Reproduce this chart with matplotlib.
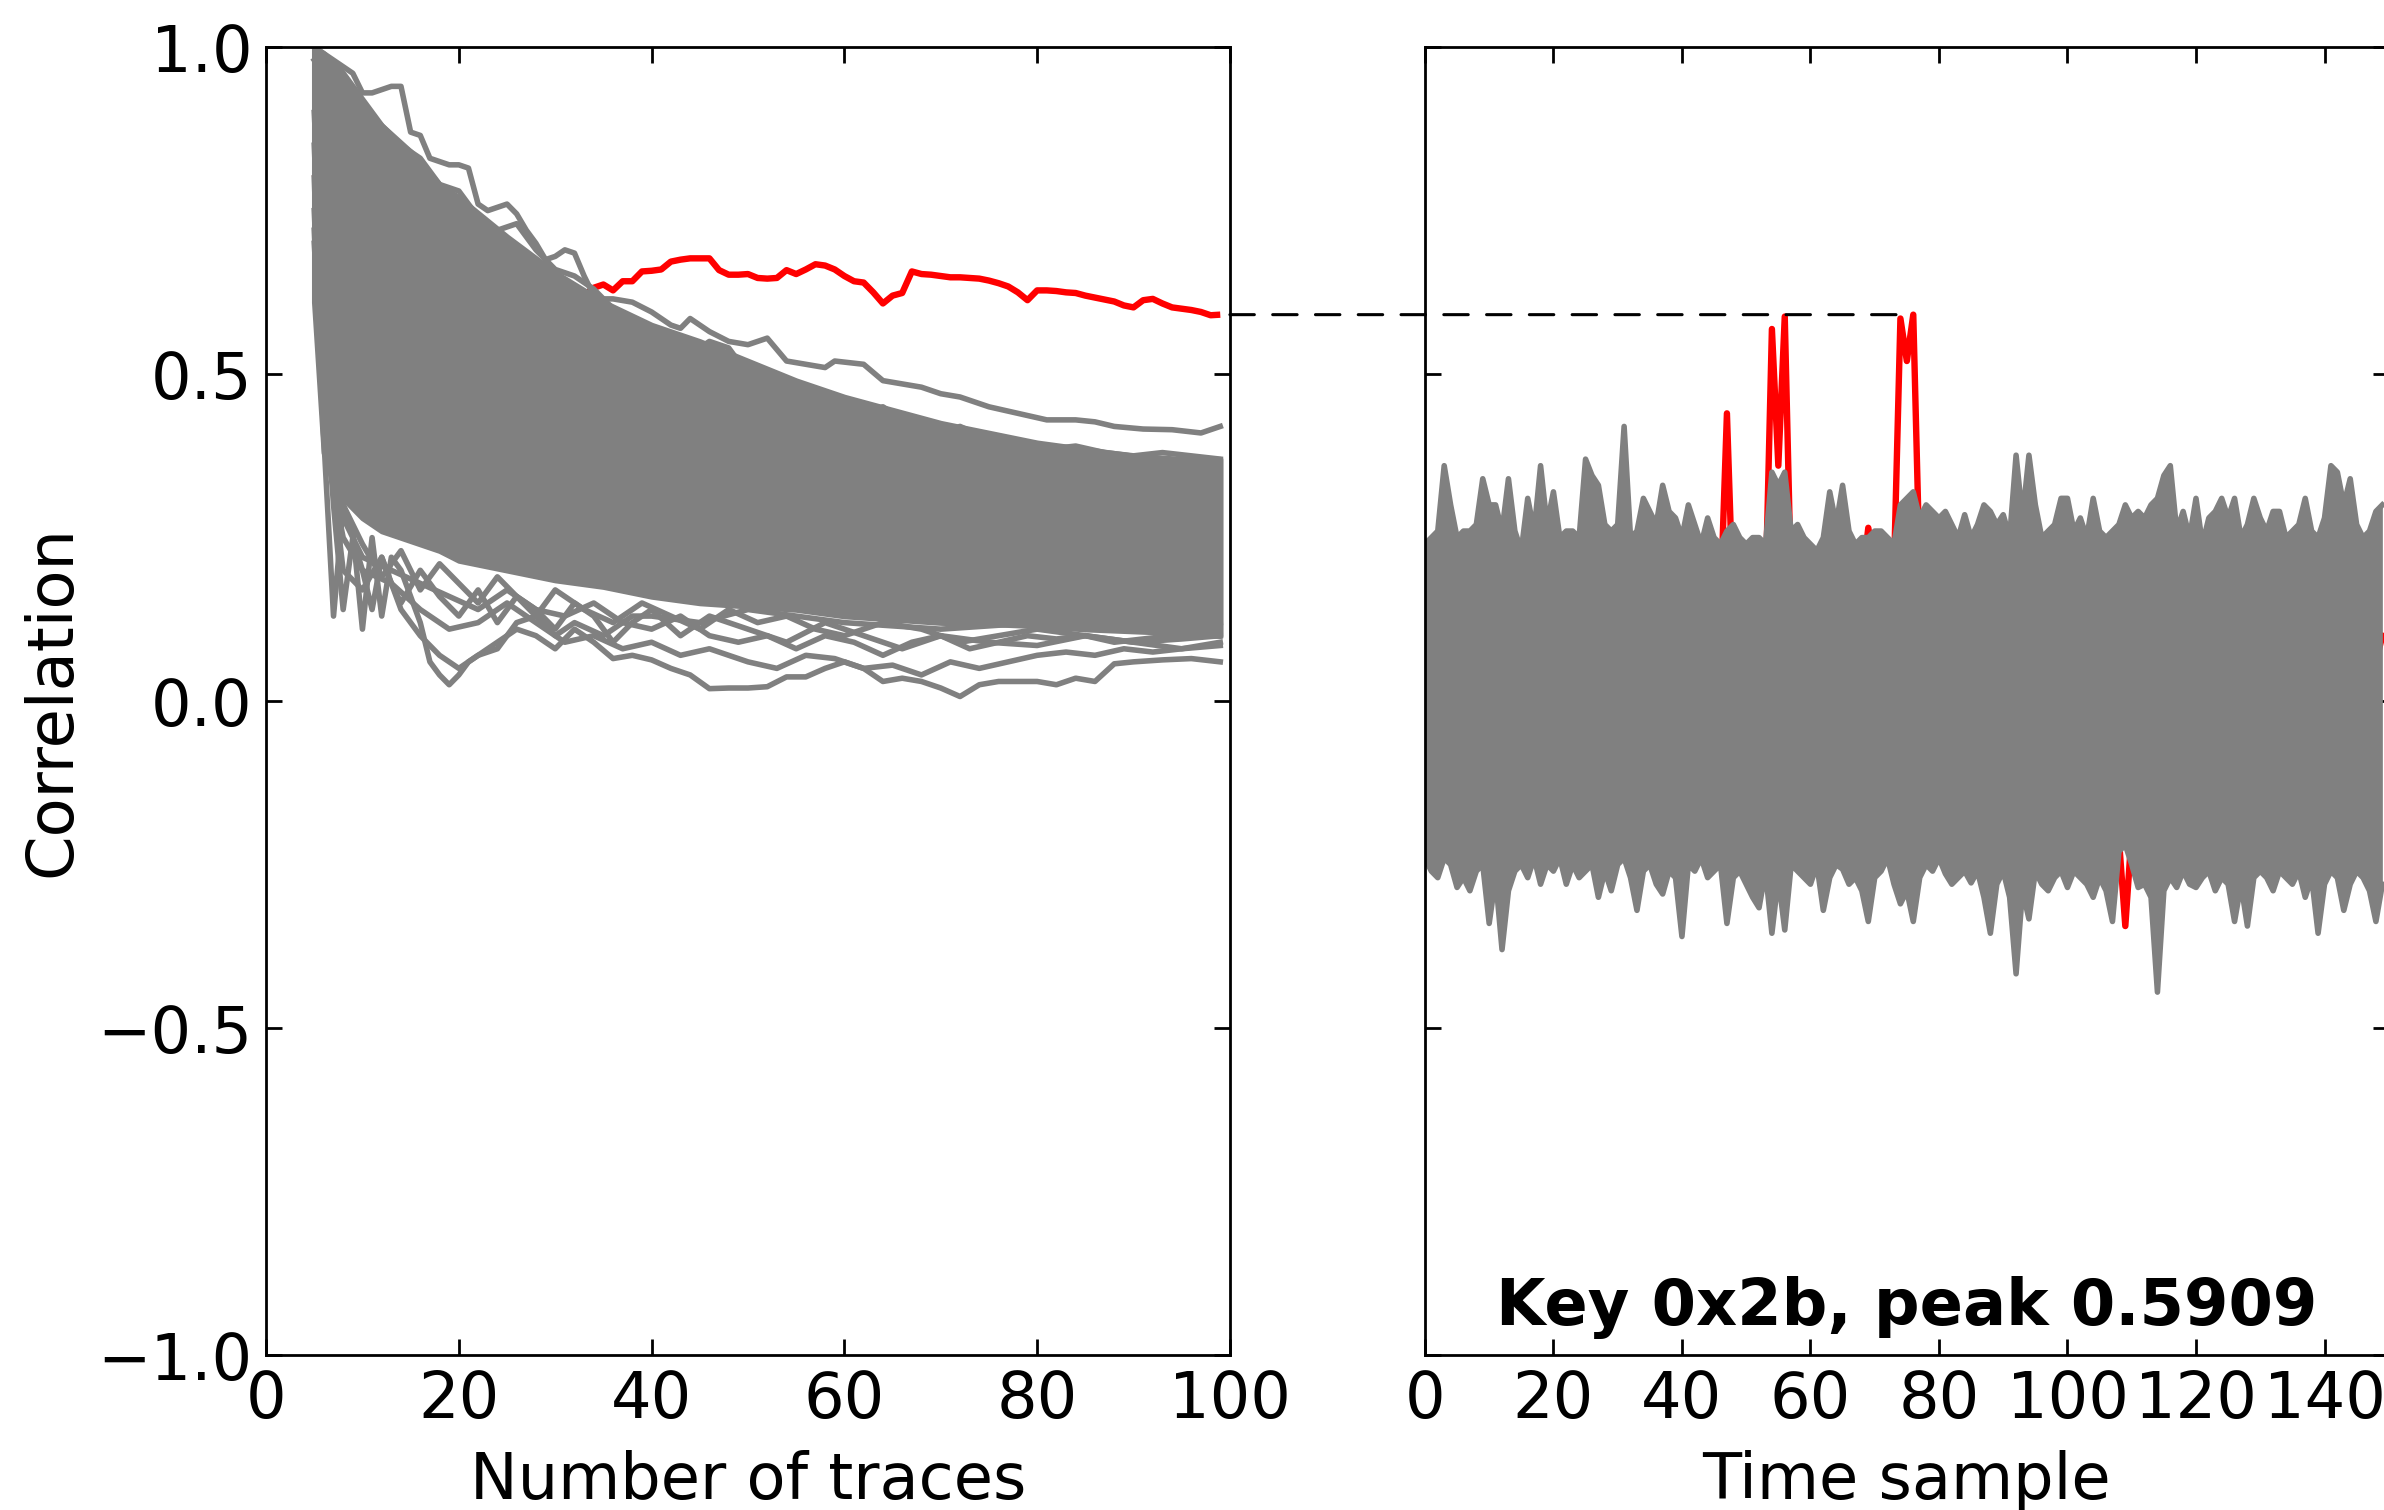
import matplotlib
matplotlib.use('Agg')
import matplotlib.pyplot as plt
from matplotlib.patches import ConnectionPatch

plt.rcParams['font.family'] = ['DejaVu Sans']
plt.rcParams['font.size'] = 23

GRAY = '#808080'

# ---- left panel: correlation vs number of traces ----
# correct key (red)
trace_counts = list(range(5, 100))
red_corr = [
    0.80, 0.82, 0.78, 0.80, 0.76, 0.74, 0.75, 0.72, 0.70, 0.71,
    0.69, 0.70, 0.68, 0.69, 0.67, 0.66, 0.68, 0.66, 0.67, 0.65,
    0.66, 0.68, 0.67, 0.65, 0.64, 0.63, 0.64, 0.62, 0.62, 0.632,
    0.637, 0.628, 0.642, 0.642, 0.657, 0.658, 0.660, 0.672, 0.675, 0.677,
    0.677, 0.677, 0.659, 0.652, 0.652, 0.653, 0.647, 0.646, 0.647, 0.659,
    0.653, 0.660, 0.668, 0.666, 0.660, 0.650, 0.642, 0.640, 0.625, 0.608,
    0.620, 0.624, 0.657, 0.653, 0.652, 0.650, 0.648, 0.648, 0.647, 0.646,
    0.643, 0.639, 0.634, 0.625, 0.613, 0.628, 0.628, 0.627, 0.625, 0.624,
    0.620, 0.617, 0.614, 0.611, 0.605, 0.602, 0.613, 0.615, 0.608, 0.602,
    0.600, 0.598, 0.595, 0.590, 0.5909,
]
peak_value = 0.5909
peak_sample = 76

# dense bulk of the wrong-key guesses
bulk_counts = [5, 6, 7, 8, 10, 12, 15, 18, 20, 25, 30, 35, 40, 45, 50,
               55, 60, 65, 70, 75, 80, 85, 90, 95, 99]
bulk_high = [1.0, 0.99, 0.975, 0.96, 0.92, 0.88, 0.84, 0.79, 0.77, 0.71,
             0.655, 0.61, 0.575, 0.55, 0.52, 0.49, 0.465, 0.445, 0.425, 0.41,
             0.395, 0.385, 0.375, 0.37, 0.37]
bulk_low = [0.61, 0.38, 0.34, 0.31, 0.28, 0.26, 0.245, 0.23, 0.215, 0.20,
            0.185, 0.175, 0.16, 0.15, 0.145, 0.14, 0.13, 0.125, 0.12, 0.118,
            0.115, 0.11, 0.107, 0.104, 0.10]

# wrong-key guesses that stand out of the bulk
upper_a_n = [5, 6, 7, 8, 9, 10, 11, 12, 13, 14, 15, 16, 17, 18, 19, 20, 21, 22,
             23, 24, 25, 26, 27, 28, 29, 30, 31, 32, 33, 34, 35, 36, 38, 40, 42,
             43, 44, 46, 48, 50, 52, 54, 56, 58, 59, 62, 64, 66, 68, 70, 72, 75,
             78, 81, 84, 86, 88, 91, 94, 97, 99]
upper_a = [1.0, 0.99, 0.98, 0.97, 0.96, 0.93, 0.93, 0.935, 0.94, 0.94, 0.87,
           0.865, 0.83, 0.825, 0.82, 0.82, 0.815, 0.76, 0.75, 0.755, 0.76, 0.745,
           0.72, 0.70, 0.675, 0.68, 0.69, 0.685, 0.65, 0.62, 0.615, 0.615, 0.61,
           0.595, 0.575, 0.57, 0.585, 0.565, 0.55, 0.545, 0.555, 0.52, 0.515,
           0.51, 0.52, 0.515, 0.49, 0.485, 0.48, 0.47, 0.465, 0.45, 0.44, 0.43,
           0.43, 0.427, 0.42, 0.416, 0.415, 0.41, 0.42]
upper_b_n = [5, 8, 12, 14, 16, 18, 20, 22, 24, 26, 28, 30, 32, 34, 36, 38, 40,
             42, 44, 46, 48, 50, 52, 54, 56, 58, 60, 62, 64, 66, 68, 70, 72, 75,
             78, 81, 84, 87, 90, 93, 96, 99]
upper_b = [0.98, 0.92, 0.88, 0.85, 0.83, 0.79, 0.78, 0.74, 0.72, 0.73, 0.69,
           0.66, 0.65, 0.63, 0.60, 0.58, 0.57, 0.55, 0.53, 0.55, 0.54, 0.50,
           0.49, 0.47, 0.48, 0.46, 0.45, 0.44, 0.45, 0.43, 0.42, 0.41, 0.42,
           0.40, 0.39, 0.385, 0.39, 0.38, 0.375, 0.38, 0.375, 0.37]
lower_a_n = [5, 6, 7, 8, 9, 10, 11, 12, 13, 14, 15, 16, 17, 18, 19, 20, 21, 22,
             24, 26, 28, 30, 32, 35, 38, 40, 45, 50, 55, 60, 70, 80, 90, 99]
lower_a = [0.72, 0.40, 0.13, 0.30, 0.26, 0.11, 0.25, 0.13, 0.22, 0.20, 0.16,
           0.12, 0.06, 0.04, 0.025, 0.04, 0.06, 0.07, 0.08, 0.12, 0.13, 0.10,
           0.12, 0.10, 0.13, 0.13, 0.12, 0.14, 0.13, 0.12, 0.11, 0.12, 0.11,
           0.12]
lower_b_n = [5, 6, 8, 10, 12, 14, 16, 18, 20, 22, 24, 26, 28, 30, 32, 34, 36,
             38, 40, 42, 44, 46, 48, 50, 52, 54, 56, 58, 60, 62, 64, 66, 68, 70,
             72, 74, 76, 78, 80, 82, 84, 86, 88, 90, 93, 96, 99]
lower_b = [0.70, 0.45, 0.20, 0.17, 0.22, 0.14, 0.10, 0.07, 0.05, 0.07, 0.09,
           0.11, 0.10, 0.08, 0.11, 0.09, 0.065, 0.07, 0.063, 0.05, 0.04, 0.019,
           0.02, 0.02, 0.022, 0.037, 0.037, 0.05, 0.06, 0.05, 0.03, 0.035, 0.03,
           0.02, 0.007, 0.025, 0.03, 0.03, 0.03, 0.025, 0.035, 0.03, 0.057,
           0.06, 0.063, 0.065, 0.06]
lower_c_n = [5, 6, 8, 10, 13, 16, 19, 22, 25, 28, 31, 34, 37, 40, 43, 46, 50,
             53, 56, 59, 62, 65, 68, 71, 74, 77, 80, 83, 86, 89, 92, 95, 99]
lower_c = [0.80, 0.40, 0.25, 0.20, 0.18, 0.14, 0.11, 0.12, 0.15, 0.12, 0.09,
           0.10, 0.08, 0.09, 0.07, 0.08, 0.06, 0.05, 0.07, 0.065, 0.05, 0.055,
           0.04, 0.06, 0.05, 0.06, 0.07, 0.075, 0.07, 0.08, 0.075, 0.08, 0.085]
lower_d_n = [5, 6, 8, 10, 13, 16, 19, 22, 25, 28, 31, 34, 37, 40, 43, 46, 49,
             52, 55, 58, 61, 64, 67, 70, 73, 76, 79, 82, 85, 88, 91, 94, 99]
lower_d = [0.75, 0.42, 0.28, 0.22, 0.20, 0.18, 0.16, 0.14, 0.17, 0.14, 0.13,
           0.15, 0.12, 0.11, 0.13, 0.10, 0.09, 0.10, 0.08, 0.10, 0.09, 0.07,
           0.09, 0.10, 0.08, 0.09, 0.10, 0.095, 0.10, 0.09, 0.095, 0.10, 0.10]
lower_e_n = [5, 6, 7, 8, 9, 10, 11, 12, 13, 14, 16, 18, 20, 22, 24, 26, 28, 30,
             32, 34, 36, 38, 40, 43, 46, 50, 54, 58, 62, 66, 70, 75, 80, 85, 90,
             95, 99]
lower_e = [0.85, 0.50, 0.30, 0.14, 0.25, 0.20, 0.14, 0.22, 0.18, 0.15, 0.20,
           0.16, 0.13, 0.17, 0.12, 0.16, 0.14, 0.11, 0.15, 0.13, 0.09, 0.12,
           0.14, 0.10, 0.13, 0.11, 0.09, 0.12, 0.10, 0.08, 0.10, 0.09, 0.085,
           0.10, 0.09, 0.08, 0.09]
lower_f_n = [5, 6, 8, 10, 12, 14, 16, 18, 20, 22, 24, 26, 28, 30, 33, 36, 39,
             42, 45, 48, 51, 54, 57, 60, 64, 68, 72, 76, 80, 85, 90, 95, 99]
lower_f = [0.90, 0.60, 0.30, 0.24, 0.19, 0.23, 0.17, 0.21, 0.18, 0.15, 0.19,
           0.16, 0.13, 0.17, 0.14, 0.12, 0.15, 0.13, 0.11, 0.14, 0.12, 0.13,
           0.11, 0.10, 0.12, 0.11, 0.09, 0.10, 0.11, 0.10, 0.09, 0.095, 0.10]

# ---- right panel: correlation vs time sample (100 traces) ----
time_samples = list(range(150))
band_high = [
    0.24, 0.25, 0.26, 0.36, 0.30, 0.25, 0.26, 0.26, 0.27, 0.34,
    0.30, 0.30, 0.26, 0.34, 0.26, 0.23, 0.31, 0.26, 0.36, 0.27,
    0.32, 0.25, 0.26, 0.26, 0.25, 0.37, 0.345, 0.33, 0.27, 0.26,
    0.27, 0.42, 0.25, 0.26, 0.31, 0.29, 0.27, 0.33, 0.29, 0.28,
    0.25, 0.30, 0.27, 0.24, 0.28, 0.25, 0.24, 0.26, 0.27, 0.25,
    0.24, 0.25, 0.25, 0.24, 0.35, 0.33, 0.35, 0.26, 0.27, 0.25,
    0.24, 0.23, 0.25, 0.32, 0.27, 0.33, 0.26, 0.24, 0.25, 0.25,
    0.26, 0.26, 0.25, 0.24, 0.30, 0.31, 0.32, 0.28, 0.30, 0.29,
    0.28, 0.29, 0.27, 0.25, 0.285, 0.25, 0.27, 0.30, 0.29, 0.27,
    0.285, 0.25, 0.376, 0.28, 0.376, 0.30, 0.25, 0.26, 0.27, 0.31,
    0.31, 0.26, 0.28, 0.25, 0.31, 0.26, 0.25, 0.26, 0.27, 0.30,
    0.28, 0.29, 0.28, 0.30, 0.31, 0.345, 0.36, 0.26, 0.29, 0.25,
    0.31, 0.24, 0.28, 0.29, 0.31, 0.28, 0.31, 0.25, 0.27, 0.31,
    0.28, 0.26, 0.29, 0.29, 0.25, 0.26, 0.27, 0.31, 0.26, 0.25,
    0.28, 0.36, 0.35, 0.30, 0.34, 0.27, 0.25, 0.26, 0.29, 0.30,
]
band_low = [
    -0.24, -0.26, -0.27, -0.24, -0.25, -0.285, -0.27, -0.29, -0.26, -0.25,
    -0.34, -0.27, -0.38, -0.29, -0.26, -0.25, -0.27, -0.24, -0.28, -0.25,
    -0.26, -0.24, -0.28, -0.25, -0.27, -0.26, -0.25, -0.30, -0.26, -0.29,
    -0.25, -0.24, -0.27, -0.32, -0.26, -0.25, -0.28, -0.295, -0.26, -0.27,
    -0.36, -0.25, -0.26, -0.24, -0.27, -0.26, -0.25, -0.34, -0.27, -0.26,
    -0.28, -0.30, -0.316, -0.26, -0.355, -0.27, -0.35, -0.25, -0.26, -0.27,
    -0.28, -0.25, -0.32, -0.27, -0.25, -0.257, -0.28, -0.27, -0.29, -0.337,
    -0.27, -0.26, -0.24, -0.28, -0.31, -0.29, -0.337, -0.27, -0.25, -0.26,
    -0.24, -0.264, -0.28, -0.27, -0.26, -0.278, -0.26, -0.30, -0.355, -0.28,
    -0.26, -0.30, -0.417, -0.29, -0.333, -0.26, -0.28, -0.29, -0.27, -0.26,
    -0.285, -0.26, -0.27, -0.28, -0.30, -0.27, -0.29, -0.337, -0.23, -0.22,
    -0.25, -0.285, -0.28, -0.30, -0.445, -0.29, -0.27, -0.285, -0.26, -0.28,
    -0.285, -0.27, -0.26, -0.29, -0.27, -0.28, -0.337, -0.28, -0.344, -0.27,
    -0.26, -0.27, -0.29, -0.26, -0.27, -0.28, -0.26, -0.30, -0.27, -0.355,
    -0.28, -0.26, -0.27, -0.32, -0.28, -0.26, -0.27, -0.29, -0.337, -0.28,
]
red_time = [
    0.05, -0.08, 0.12, 0.02, -0.11, 0.07, 0.15, -0.03, -0.14, 0.09,
    0.01, -0.06, 0.11, 0.04, -0.09, -0.02, 0.13, 0.06, -0.12, 0.03,
    0.08, -0.05, -0.15, 0.10, 0.02, -0.07, 0.14, 0.00, -0.10, 0.06,
    0.12, -0.04, 0.03, -0.13, 0.08, 0.11, -0.06, 0.01, 0.09, -0.11,
    0.04, 0.07, -0.08, 0.13, 0.02, 0.12, 0.15, 0.44, 0.14, 0.05,
    -0.03, 0.08, -0.10, 0.16, 0.569, 0.36, 0.588, 0.17, 0.05, -0.04,
    0.02, -0.09, 0.06, 0.10, -0.04, 0.08, 0.12, 0.05, 0.18, 0.265,
    0.20, 0.10, 0.12, 0.20, 0.585, 0.52, 0.5909, 0.20, 0.05, -0.06,
    0.10, -0.02, 0.07, -0.12, 0.04, 0.09, -0.07, 0.01, 0.13, -0.05,
    0.06, 0.11, -0.09, 0.03, 0.08, -0.10, 0.05, 0.14, -0.04, 0.02,
    -0.08, 0.10, 0.04, -0.11, 0.07, -0.02, 0.09, -0.15, -0.21, -0.344,
    -0.20, 0.03, -0.06, 0.10, 0.05, -0.12, 0.08, 0.01, -0.07, 0.12,
    0.06, -0.09, 0.02, 0.11, -0.04, 0.07, -0.13, 0.03, 0.09, -0.05,
    0.10, -0.02, 0.05, -0.10, 0.08, 0.13, -0.06, 0.02, -0.11, 0.04,
    0.07, -0.08, 0.12, 0.00, -0.05, 0.09, 0.03, -0.12, 0.06, 0.10,
]

fig = plt.figure(figsize=(11.92, 7.55), dpi=200)
ax1 = fig.add_axes([0.1116, 0.1026, 0.4043, 0.8662])
ax2 = fig.add_axes([0.5977, 0.1026, 0.4043, 0.8662])

# left
ax1.plot(trace_counts, red_corr, color='red', lw=2.3, solid_capstyle='butt',
         zorder=1)
ax1.fill_between(bulk_counts, bulk_low, bulk_high, facecolor=GRAY,
                 edgecolor=GRAY, lw=2, zorder=2)
stray_lines = [(upper_a_n, upper_a), (upper_b_n, upper_b),
               (lower_a_n, lower_a), (lower_b_n, lower_b),
               (lower_c_n, lower_c), (lower_d_n, lower_d),
               (lower_e_n, lower_e), (lower_f_n, lower_f)]
for xs, ys in stray_lines:
    ax1.plot(xs, ys, color=GRAY, lw=2, zorder=2)
ax1.set_xlim(0, 100)
ax1.set_xticks([0, 20, 40, 60, 80, 100])
ax1.set_xlabel('Number of traces', labelpad=7)
ax1.set_ylabel('Correlation')
ax1.yaxis.set_label_coords(-0.19, 0.5)

# right
ax2.plot(time_samples, red_time, color='red', lw=2.3, zorder=1)
ax2.fill_between(time_samples, band_low, band_high, color=GRAY, lw=0, zorder=2)
ax2.plot(time_samples, band_high, color=GRAY, lw=2, zorder=2)
ax2.plot(time_samples, band_low, color=GRAY, lw=2, zorder=2)
ax2.set_xlim(0, 150)
ax2.set_xticks([0, 20, 40, 60, 80, 100, 120, 140])
ax2.set_xlabel('Time sample', labelpad=7)
ax2.set_yticklabels([])
ax2.text(0.5, 0.023, 'Key 0x2b, peak %.4f' % peak_value, transform=ax2.transAxes,
         ha='center', va='baseline', fontweight='bold', fontsize=23)

for ax in (ax1, ax2):
    ax.set_ylim(-1, 1)
    ax.set_yticks([-1.0, -0.5, 0.0, 0.5, 1.0])
    ax.tick_params(direction='in', top=True, right=True, length=5.8, width=1, pad=5)
    for sp in ax.spines.values():
        sp.set_linewidth(1)
ax1.set_yticklabels(['\u22121.0', '\u22120.5', '0.0', '0.5', '1.0'])

con = ConnectionPatch(xyA=(100, peak_value), coordsA=ax1.transData,
                      xyB=(peak_sample, peak_value), coordsB=ax2.transData,
                      color='black', lw=1.1, linestyle=(0, (8, 6)), zorder=5)
fig.add_artist(con)

fig.savefig('out.png', dpi=200)
